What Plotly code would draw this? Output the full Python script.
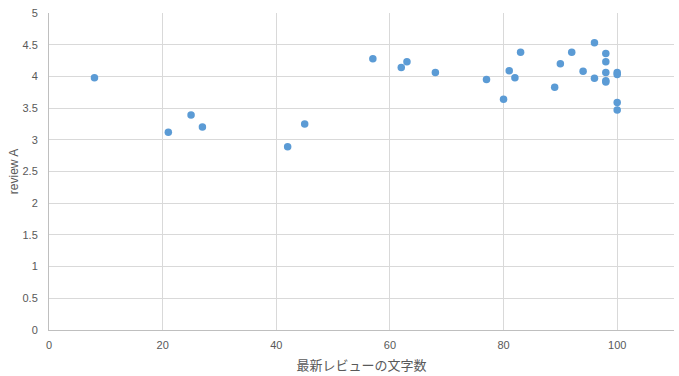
import plotly.graph_objects as go

review_length = [8, 21, 25, 27, 42, 45, 57, 62, 63, 68, 77, 80, 81, 82, 83, 89, 90, 92, 94, 96,
                 96, 98, 98, 98, 98, 98, 100, 100, 100, 100]
review_a = [3.98, 3.12, 3.39, 3.20, 2.89, 3.25, 4.28, 4.14, 4.23, 4.06, 3.95, 3.64, 4.09, 3.98, 4.38,
            3.83, 4.20, 4.38, 4.08, 4.53, 3.97, 4.36, 4.23, 4.06, 3.93, 3.91, 4.06, 4.03, 3.59, 3.47]

x_ticks = [0, 20, 40, 60, 80, 100]
y_ticks = [0, 0.5, 1, 1.5, 2, 2.5, 3, 3.5, 4, 4.5, 5]
y_labels = ["0", "0.5", "1", "1.5", "2", "2.5", "3", "3.5", "4", "4.5", "5"]

fig = go.Figure(go.Scatter(
    x=review_length, y=review_a, mode="markers",
    marker=dict(color="#5B9BD5", size=7.5, line=dict(width=0)),
    showlegend=False,
))

font_family = "Liberation Sans, Noto Sans CJK JP, sans-serif"
fig.update_layout(
    width=679, height=376,
    margin=dict(l=49, r=5, t=13, b=46, autoexpand=False),
    paper_bgcolor="white", plot_bgcolor="white",
    font=dict(family=font_family, color="#595959", size=11),
    xaxis=dict(
        range=[0, 110], tickvals=x_ticks, showgrid=True, gridcolor="#D9D9D9", gridwidth=1,
        zeroline=False, showline=True, linecolor="#BFBFBF", linewidth=1, automargin=False,
        ticks="", ticklen=0, ticklabelstandoff=5, tickfont=dict(size=11, color="#595959"),
        title=dict(text="最新レビューの文字数", font=dict(size=13, color="#595959"), standoff=10),
    ),
    yaxis=dict(
        range=[0, 5], tickvals=y_ticks, ticktext=y_labels, showgrid=True, gridcolor="#D9D9D9",
        gridwidth=1, zeroline=False, showline=True, linecolor="#BFBFBF", linewidth=1,
        automargin=False, ticks="", ticklen=0, ticklabelstandoff=8,
        tickfont=dict(size=11, color="#595959"),
        title=dict(text="review A", font=dict(size=12, color="#595959"), standoff=1),
    ),
)

fig.write_html("out.html", config={"displayModeBar": False},
               post_script="document.body.style.margin='0';")
